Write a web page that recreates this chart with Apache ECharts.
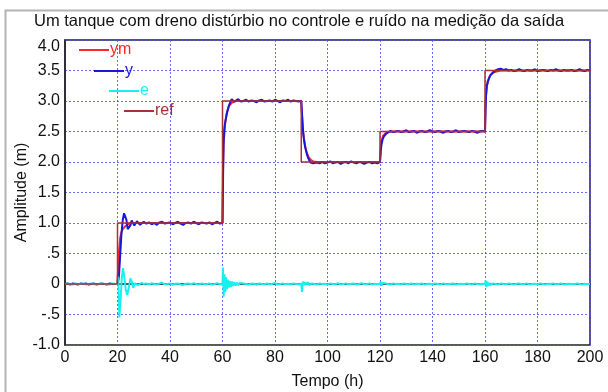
<!DOCTYPE html>
<html><head><meta charset="utf-8">
<script src="https://cdn.jsdelivr.net/npm/echarts@6/dist/echarts.min.js"></script>
<style>html,body{margin:0;padding:0;background:#fff}#c{width:608px;height:392px}</style>
</head><body><div id="c"></div>
<script>
var titleText = 'Um tanque com dreno distúrbio no controle e ruído na medição da saída';
var xName = 'Tempo (h)';
var yName = 'Amplitude (m)';
var xTicks = [0,20,40,60,80,100,120,140,160,180,200];
var yTickValues = [-1,-0.5,0,0.5,1,1.5,2,2.5,3,3.5,4];
var yTickLabels = ['-1.0','-.5','0','.5','1.0','1.5','2.0','2.5','3.0','3.5','4.0'];
var seriesNames = ['ym','y','e','ref'];

// reference setpoint: change times and new levels
var refTimes  = [0,20,60,90,120,160,200];
var refLevels = [0,1,3,2,2.5,3.5,3.5];

// model output ym
var ymData = [[0,0],[19.8,0],[20,0.05],[20.3,0.3],[20.6,0.55],[21,0.75],[21.5,0.85],[22,0.9],[23,0.95],[24,0.98],[25,1.0],
 [60,1.0],[60.15,1.8],[60.4,2.3],[61,2.62],[61.6,2.8],[62.5,2.92],[63.5,2.97],[65,3.0],
 [90,3.0],[90.3,2.75],[90.8,2.45],[91.4,2.28],[92,2.17],[92.7,2.09],[93.5,2.04],[94.5,2.01],[96,2.0],
 [120,2.0],[120.2,2.2],[120.6,2.35],[121.2,2.43],[122,2.47],[123,2.49],[124.5,2.5],
 [160,2.5],[160.2,2.95],[160.6,3.22],[161,3.32],[162,3.42],[163,3.46],[164,3.48],[166,3.5],[200,3.5]];

// measured output y
var yData = [[0,0],[1,0.01],[2,-0.01],[3,0.01],[4,0],[5,-0.01],[6,0.01],[7,0],[8,0.01],[9,-0.01],[10,0],[11,0.01],[12,-0.01],[13,0],[14,0.01],[15,0],[16,-0.01],[17,0.01],[18,0],[19,0],
 [20,0],[20.5,0.1],[21,0.45],[21.5,0.82],[22,1.05],[22.5,1.16],[22.9,1.17],[23.4,1.05],[23.9,0.9],[24.4,0.87],[24.9,0.96],[25.4,1.04],[25.9,1.02],[26.4,0.96],[26.9,0.97],[27.4,1.03],[28,1.01],[28.6,0.97],[29.3,1.0],[30,1.02],
 [31,0.99],[32,1.01],[33,0.98],[34,1.0],[35,0.97],[36,1.01],[37,1.02],[38,0.99],[39,1.0],[40,1.01],[41,0.98],[42,1.0],[43,1.02],[44,0.99],[45,0.97],[46,1.0],[47,1.01],[48,0.99],[49,1.02],[50,1.0],[51,0.98],[52,1.01],[53,1.0],[54,0.99],[55,1.01],[56,0.98],[57,1.0],[58,1.02],[59,0.99],
 [60,1.0],[60.2,1.7],[60.4,2.3],[60.7,2.55],[61,2.65],[61.5,2.76],[62,2.86],[62.5,2.93],[63,2.98],[63.5,3.03],[64,3.02],[64.5,2.99],[65,3.01],[66,3.03],[67,2.99],[68,3.0],
 [69,3.02],[70,2.99],[71,3.01],[72,3.0],[73,2.98],[74,3.01],[75,3.02],[76,2.99],[77,3.0],[78,3.01],[79,2.99],[80,3.02],[81,3.0],[82,2.98],[83,3.01],[84,3.0],[85,3.02],[86,2.99],[87,3.01],[88,3.0],[89,2.99],
 [90,3.0],[90.3,2.78],[90.6,2.55],[91,2.38],[91.5,2.24],[92,2.15],[92.5,2.08],[93,2.03],[93.5,1.99],[94,1.97],[94.5,1.98],[95,1.96],[96,1.99],[97,1.98],
 [98,2.0],[99,1.98],[100,1.99],[101,2.01],[102,1.98],[103,1.99],[104,2.0],[105,1.97],[106,1.99],[107,2.0],[108,1.98],[109,2.01],[110,1.99],[111,1.98],[112,2.0],[113,1.99],[114,1.97],[115,1.99],[116,2.0],[117,1.98],[118,1.99],[119,1.98],
 [120,2.0],[120.3,2.18],[120.6,2.3],[121,2.37],[121.5,2.42],[122,2.45],[122.5,2.47],[123,2.49],[124,2.51],[125,2.49],[126,2.5],
 [127,2.51],[128,2.49],[129,2.5],[130,2.52],[131,2.49],[132,2.5],[133,2.51],[134,2.48],[135,2.5],[136,2.51],[137,2.49],[138,2.5],[139,2.52],[140,2.5],[141,2.49],[142,2.51],[143,2.5],[144,2.48],[145,2.5],[146,2.51],[147,2.49],[148,2.5],[149,2.52],[150,2.49],[151,2.5],[152,2.51],[153,2.5],[154,2.49],[155,2.51],[156,2.5],[157,2.48],[158,2.5],[159,2.51],
 [160,2.5],[160.2,2.85],[160.4,3.1],[160.7,3.24],[161,3.3],[161.5,3.37],[162,3.42],[162.5,3.45],[163,3.47],[164,3.5],[165,3.52],[166,3.53],[167,3.51],[168,3.52],
 [169,3.5],[170,3.51],[171,3.49],[172,3.5],[173,3.52],[174,3.5],[175,3.49],[176,3.51],[177,3.5],[178,3.5],[179,3.52],[180,3.49],[181,3.5],[182,3.51],[183,3.5],[184,3.49],[185,3.51],[186,3.5],[187,3.52],[188,3.5],[189,3.49],[190,3.51],[191,3.5],[192,3.5],[193,3.51],[194,3.49],[195,3.5],[196,3.52],[197,3.5],[198,3.49],[199,3.51],[200,3.5]];

// error e
var eData = [[0,0],[1,0.01],[2,0],[3,-0.01],[4,0.01],[5,0],[6,0],[7,0.01],[8,-0.01],[9,0],[10,0.01],[11,0],[12,-0.01],[13,0],[14,0.01],[15,0],[16,0],[17,-0.01],[18,0.01],[19,0],
 [20,0],[20.3,0.12],[20.7,-0.55],[21.1,-0.32],[21.6,0.08],[22.1,0.26],[22.6,0.12],[23.1,-0.08],[23.7,-0.18],[24.3,-0.06],[24.9,0.09],[25.5,0.03],[26,-0.06],[26.6,0.01],[27.2,0.04],[27.8,-0.02],[28.5,-0.03],[29.2,0.02],[30,0],
 [31,0.01],[32,-0.01],[33,0.015],[34,0],[35,-0.01],[36,0.01],[37,0.02],[38,-0.005],[39,0],[40,0.01],[41,-0.015],[42,0.005],[43,0.01],[44,-0.01],[45,-0.02],[46,0.005],[47,0.01],[48,-0.005],[49,0.015],[50,0],[51,-0.01],[52,0.01],[53,0],[54,-0.005],[55,0.01],[56,-0.01],[57,0],[58,0.015],[59,-0.005],
 [60,0],[60.15,0.27],[60.45,-0.21],[60.75,0.16],[61.05,-0.13],[61.35,0.11],[61.7,-0.09],[62.05,0.07],[62.4,-0.06],[62.8,0.05],[63.2,-0.05],[63.6,0.04],[64,-0.03],[64.5,0.03],[65,-0.025],[65.5,0.02],[66,-0.02],[66.5,0.015],[67,-0.01],[68,0.01],
 [69,0],[70,-0.01],[71,0.01],[72,0.005],[73,-0.015],[74,0.01],[75,0],[76,-0.005],[77,0.01],[78,-0.01],[79,0.005],[80,0.015],[81,-0.01],[82,0],[83,0.01],[84,-0.005],[85,0.005],[86,-0.01],[87,0.01],[88,0],[89,-0.005],
 [90,0],[90.3,-0.13],[90.6,0.04],[91,-0.02],[91.5,0.03],[92,-0.01],[92.5,0.03],[93,-0.02],[94,0.01],
 [95,0],[96,-0.01],[97,0.01],[98,0],[99,0.005],[100,-0.01],[101,0.01],[102,0],[103,-0.005],[104,0.015],[105,-0.01],[106,0],[107,0.01],[108,-0.005],[109,0.005],[110,0.01],[111,-0.01],[112,0],[113,0.015],[114,-0.005],[115,0],[116,0.01],[117,-0.01],[118,0.005],[119,0],
 [120,0],[120.3,0.04],[120.6,-0.03],[121,0.02],[121.5,-0.01],[122,0.01],
 [123,0],[124,-0.01],[125,0.01],[126,0],[127,0.005],[128,-0.01],[129,0.01],[130,0],[131,-0.005],[132,0.01],[133,-0.01],[134,0.005],[135,0],[136,0.01],[137,-0.01],[138,0],[139,0.005],[140,-0.005],[141,0.01],[142,0],[143,-0.01],[144,0.01],[145,0],[146,-0.005],[147,0.005],[148,0.01],[149,-0.01],[150,0],[151,0.005],[152,-0.005],[153,0.01],[154,0],[155,-0.01],[156,0.01],[157,0],[158,-0.005],[159,0.005],
 [160,0],[160.2,0.06],[160.5,-0.05],[160.8,0.04],[161.2,-0.03],[161.6,0.02],[162,-0.02],[163,0.01],
 [164,0],[165,-0.01],[166,0.01],[167,0],[168,-0.005],[169,0.01],[170,0],[171,-0.01],[172,0.005],[173,0.01],[174,-0.005],[175,0],[176,0.01],[177,-0.01],[178,0],[179,0.005],[180,-0.005],[181,0.01],[182,0],[183,-0.01],[184,0.005],[185,0],[186,0.01],[187,-0.005],[188,0],[189,0.01],[190,-0.01],[191,0],[192,0.005],[193,0],[194,-0.005],[195,0.01],[196,0],[197,-0.01],[198,0.005],[199,0],[200,0]];

var colors = {ym:'#ff2626', y:'#1818d8', e:'#18f0f0', ref:'#a83232'};
var FONT = "'Liberation Sans', Arial, sans-serif";
var refData = refTimes.map(function(t,i){return [t, refLevels[i]];});

var chart = echarts.init(document.getElementById('c'), null, {renderer:'canvas'});
var gridLine = {show:true, lineStyle:{color:'#5050ff', type:[2,2], width:1, opacity:0.85}};
function legendAt(name, left, top){
  return {data:[name], left:left, top:top, padding:0, itemWidth:30, itemHeight:12,
    icon:'path://M0,5L30,5L30,7L0,7Z', selectedMode:false,
    textStyle:{color:colors[name], fontFamily:FONT, fontSize:16, padding:[0,0,0,-4]}};
}
chart.setOption({
  animation:false,
  backgroundColor:'#fff',
  title:{text:titleText, left:34, top:13, padding:0,
    textStyle:{fontFamily:FONT, fontSize:16.5, fontWeight:'normal', color:'#111'}},
  grid:{left:65, right:18, top:40, bottom:47, show:true, borderColor:'#222', borderWidth:1.5,
    backgroundColor:'transparent', containLabel:false, outerBoundsMode:'none'},
  legend:[legendAt('ym',79,42), legendAt('y',94,63), legendAt('e',109,83), legendAt('ref',124,103)],
  xAxis:{type:'value', min:xTicks[0], max:xTicks[xTicks.length-1], interval:20,
    name:xName, nameLocation:'middle', nameGap:29, nameMoveOverlap:false,
    nameTextStyle:{fontFamily:FONT, fontSize:16, color:'#111'},
    axisLine:{show:true, lineStyle:{color:'#222', width:1.5}}, axisTick:{show:false},
    axisLabel:{fontFamily:FONT, fontSize:16, color:'#111', margin:5},
    splitLine:gridLine},
  yAxis:{type:'value', min:yTickValues[0], max:yTickValues[yTickValues.length-1], interval:0.5,
    name:yName, nameLocation:'middle', nameGap:35, nameMoveOverlap:false,
    nameTextStyle:{fontFamily:FONT, fontSize:16, color:'#111'},
    axisLine:{show:true, lineStyle:{color:'#222', width:1.5}}, axisTick:{show:false},
    axisLabel:{fontFamily:FONT, fontSize:16, color:'#111', margin:5,
      formatter:function(v){
        var i = yTickValues.indexOf(Math.round(v*2)/2);
        var s = i>=0 ? yTickLabels[i] : '';
        return i === yTickValues.length-1 ? '{top|'+s+'}' : s;
      },
      rich:{top:{fontFamily:FONT, fontSize:16, color:'#111', padding:[14,0,0,0]}}},
    splitLine:gridLine},
  series:[
    {name:'ym', type:'line', data:ymData, symbol:'none', lineStyle:{color:colors.ym, width:2}, itemStyle:{color:colors.ym}, z:2},
    {name:'y', type:'line', data:yData, symbol:'none', lineStyle:{color:colors.y, width:2}, itemStyle:{color:colors.y}, z:3},
    {name:'e', type:'line', data:eData, symbol:'none', lineStyle:{color:colors.e, width:2}, itemStyle:{color:colors.e}, z:4},
    {name:'ref', type:'line', data:refData, step:'end', symbol:'none', lineStyle:{color:colors.ref, width:1.5}, itemStyle:{color:colors.ref}, z:5}
  ],
  graphic:[{type:'rect', silent:true, shape:{x:5.5, y:10.5, width:700, height:500},
    style:{fill:null, stroke:'#b4b4b4', lineWidth:2}, z:-1}]
});
</script></body></html>
